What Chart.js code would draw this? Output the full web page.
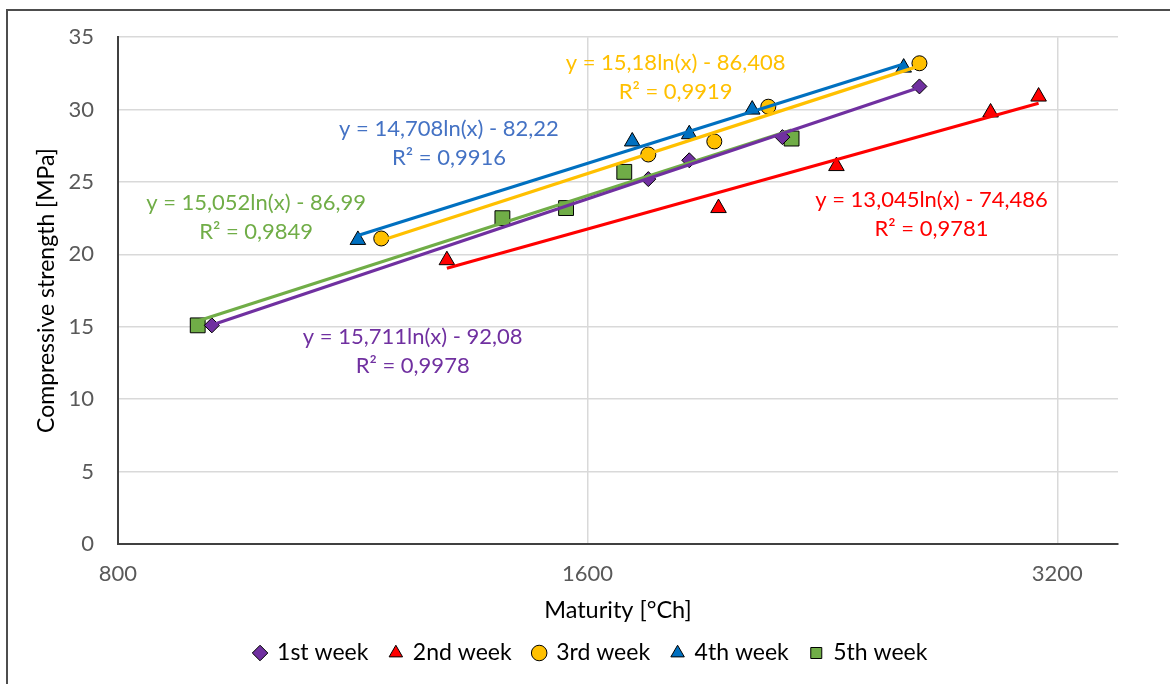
<!DOCTYPE html>
<html><head><meta charset="utf-8">
<script src="https://cdn.jsdelivr.net/npm/chart.js@4.4.1/dist/chart.umd.min.js"></script>
<style>html,body{margin:0;padding:0;background:#fff;}canvas{display:block;}</style>
</head><body>
<canvas id="c" width="1170" height="684"></canvas>
<script>
// ---- data ----
const seriesNames = ['1st week', '2nd week', '3rd week', '4th week', '5th week'];
const week1Maturity = [919, 1750, 1859, 2133, 2611];
const week1Strength = [15.1, 25.2, 26.5, 28.1, 31.6];
const week2Maturity = [1300, 1941, 2310, 2900, 3113];
const week2Strength = [19.6, 23.2, 26.1, 29.8, 30.9];
const week3Maturity = [1180, 1750, 1929, 2089, 2611];
const week3Strength = [21.1, 26.9, 27.8, 30.2, 33.2];
const week4Maturity = [1140, 1709, 1859, 2040, 2551];
const week4Strength = [21.0, 27.8, 28.3, 30.0, 32.9];
const week5Maturity = [900, 1411, 1550, 1689, 2162];
const week5Strength = [15.1, 22.5, 23.2, 25.7, 28.0];
const trendSlope = [15.711, 13.045, 15.18, 14.708, 15.052];
const trendIntercept = [-92.08, -74.486, -86.408, -82.22, -86.99];
const trendR2 = ['0,9978', '0,9781', '0,9919', '0,9916', '0,9849'];
const xTickValues = [800, 1600, 3200];
const yTickValues = [0, 5, 10, 15, 20, 25, 30, 35];

// ---- styles ----
const maturity = [week1Maturity, week2Maturity, week3Maturity, week4Maturity, week5Maturity];
const strength = [week1Strength, week2Strength, week3Strength, week4Strength, week5Strength];
const pointStyles = ['rectRot', 'triangle', 'circle', 'triangle', 'rect'];
const pointRadii = [7.5, 9, 7.5, 9, 10.5];
const seriesColors = ['#7030A0', '#FF0000', '#FFC000', '#0070C0', '#70AD47'];
const labelColors = ['#7030A0', '#FF0000', '#FFC000', '#4472C4', '#70AD47'];
// label anchors in data coordinates (maturity, strength)
const labelAnchors = [[1236, 14.3], [2658, 23.78], [1822, 33.2], [1304, 28.66], [981, 23.57]];
const FONT = 'Lato';
const PAD_LEFT = 64;

const scatterSets = seriesNames.map((name, i) => ({
  type: 'scatter',
  label: name,
  data: maturity[i].map((x, j) => ({x: x, y: strength[i][j]})),
  pointStyle: pointStyles[i],
  pointRadius: pointRadii[i],
  pointHoverRadius: pointRadii[i],
  backgroundColor: seriesColors[i],
  borderColor: '#000',
  borderWidth: 1,
  order: 1
}));

const trendSets = seriesNames.map((name, i) => {
  const xs = maturity[i];
  const x0 = Math.min(...xs), x1 = Math.max(...xs);
  const f = x => trendSlope[i] * Math.log(x) + trendIntercept[i];
  return {
    type: 'line',
    label: name + ' trend',
    data: [{x: x0, y: f(x0)}, {x: x1, y: f(x1)}],
    borderColor: seriesColors[i],
    borderWidth: 3.2,
    pointRadius: 0,
    pointHoverRadius: 0,
    fill: false,
    order: 0
  };
});

const fmt = v => String(v).replace('.', ',');

const framePlugin = {
  id: 'frame',
  beforeDraw(chart) {
    const c = chart.ctx;
    c.save();
    c.fillStyle = '#fff';
    c.fillRect(0, 0, chart.width, chart.height);
    c.strokeStyle = '#4d4d4d';
    c.lineWidth = 2;
    c.beginPath();
    c.moveTo(7, chart.height);
    c.lineTo(7, 10);
    c.lineTo(chart.width, 10);
    c.stroke();
    c.restore();
  }
};

const labelPlugin = {
  id: 'eqLabels',
  afterDatasetsDraw(chart) {
    const c = chart.ctx;
    const xs = chart.scales.x, ys = chart.scales.y;
    c.save();
    c.font = '22px ' + FONT;
    c.textAlign = 'center';
    c.textBaseline = 'middle';
    seriesNames.forEach((n, i) => {
      const px = xs.getPixelForValue(labelAnchors[i][0]);
      const py = ys.getPixelForValue(labelAnchors[i][1]);
      c.fillStyle = labelColors[i];
      c.fillText('y = ' + fmt(trendSlope[i]) + 'ln(x) - ' + fmt(-trendIntercept[i]), px, py);
      c.fillText('R\u00B2 = ' + trendR2[i], px, py + 29);
    });
    c.restore();
  }
};

new Chart(document.getElementById('c'), {
  type: 'scatter',
  data: {datasets: [...scatterSets, ...trendSets]},
  options: {
    responsive: false,
    animation: false,
    devicePixelRatio: 1,
    layout: {padding: {left: PAD_LEFT, right: 52, top: 36.7, bottom: 9.5}},
    plugins: {
      legend: {
        position: 'bottom',
        labels: {
          usePointStyle: true,
          boxWidth: 11,
          boxHeight: 11,
          padding: 22,
          color: '#000',
          font: {family: FONT, size: 23},
          filter: item => item.datasetIndex < seriesNames.length
        }
      },
      tooltip: {enabled: false}
    },
    scales: {
      x: {
        type: 'logarithmic',
        min: 800,
        max: 3500,
        afterBuildTicks: s => { s.ticks = xTickValues.map(v => ({value: v})); },
        afterFit: s => { s.height = 75.5; },
        ticks: {callback: v => String(v), color: '#595959', font: {family: FONT, size: 22}, padding: 17, autoSkip: false, maxRotation: 0},
        grid: {color: '#d9d9d9', lineWidth: 1.5, drawTicks: false},
        border: {color: '#404040', width: 2},
        title: {display: true, text: 'Maturity [°Ch]', color: '#000', font: {family: FONT, size: 23.5, lineHeight: 0.8}, padding: 0}
      },
      y: {
        min: 0,
        max: 35,
        afterBuildTicks: s => { s.ticks = yTickValues.map(v => ({value: v})); },
        afterFit: s => { s.width = 117.9 - PAD_LEFT; },
        ticks: {color: '#595959', font: {family: FONT, size: 22}, padding: 24},
        grid: {color: '#d9d9d9', lineWidth: 1.5, drawTicks: false},
        border: {color: '#404040', width: 2},
        title: {display: true, text: 'Compressive strength [MPa]', color: '#000', font: {family: FONT, size: 23, lineHeight: 1.2}, padding: {top: 47 - 13.8 - PAD_LEFT, bottom: 0}}
      }
    }
  },
  plugins: [framePlugin, labelPlugin]
});
</script>
</body></html>
